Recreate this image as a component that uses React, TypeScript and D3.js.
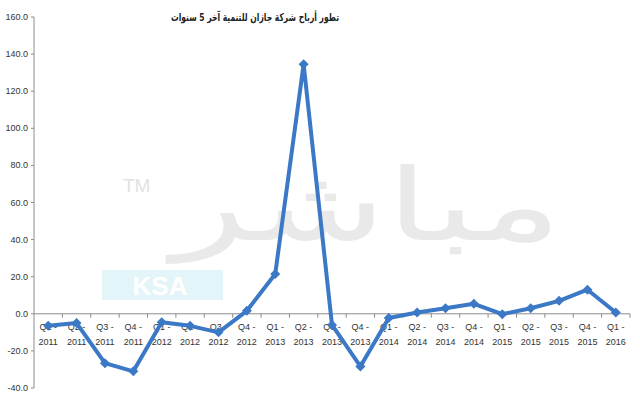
import React from "react";
import * as d3 from "d3";

const categories = [
  "Q1 - 2011", "Q2 - 2011", "Q3 - 2011", "Q4 - 2011",
  "Q1 - 2012", "Q2 - 2012", "Q3 - 2012", "Q4 - 2012",
  "Q1 - 2013", "Q2 - 2013", "Q3 - 2013", "Q4 - 2013",
  "Q1 - 2014", "Q2 - 2014", "Q3 - 2014", "Q4 - 2014",
  "Q1 - 2015", "Q2 - 2015", "Q3 - 2015", "Q4 - 2015",
  "Q1 - 2016",
];
const profits = [
  -6.5, -5.0, -26.6, -31.0,
  -4.5, -6.5, -10.0, 1.6,
  21.5, 134.5, -6.0, -28.4,
  -2.3, 0.7, 3.0, 5.4,
  -0.2, 3.0, 7.0, 13.0,
  0.7,
];
const yTicks = [-40, -20, 0, 20, 40, 60, 80, 100, 120, 140, 160];
const title = "تطور أرباح شركة جازان للتنمية آخر 5 سنوات";

export default function App() {
  const W = 640, H = 400;
  const left = 34, right = 630, top = 17, bottom = 388;
  const x = d3.scaleBand<string>().domain(categories).range([left, right]);
  const y = d3.scaleLinear().domain([-40, 160]).range([bottom, top]);
  const cx = (c: string) => (x(c) as number) + x.bandwidth() / 2;
  const line = d3.line<number>().x((_, i) => cx(categories[i])).y((d) => y(d));
  const boundaries = categories.map((c) => (x(c) as number) + x.bandwidth());
  const y0 = y(0);
  const font = "'Liberation Sans', Arial, sans-serif";

  return (
    <svg width={W} height={H} style={{ position: "absolute", left: 0, top: 0, background: "#fff" }}>
      {/* watermark */}
      <g>
        <text x={123} y={192} fontFamily={font} fontSize={19} fill="#e2e2e2">TM</text>
        <text x={562} y={240} textAnchor="end" fontFamily="'DejaVu Sans', sans-serif"
          fontSize={100} fill="#e9e9e9" textLength={390} lengthAdjust="spacingAndGlyphs">مباشر</text>
        <rect x={102} y={270} width={121} height={30} fill="#e4f5f9" />
        <text x={160} y={295} textAnchor="middle" fontFamily={font} fontWeight="bold" fontSize={26}
          fill="#ffffff">KSA</text>
      </g>

      {/* title */}
      <text x={255} y={21} textAnchor="middle" fontFamily="'DejaVu Sans', sans-serif" fontWeight="bold"
        fontSize={11} fill="#222" direction="rtl" textLength={168} lengthAdjust="spacingAndGlyphs">{title}</text>

      {/* y axis */}
      <line x1={left} x2={left} y1={top} y2={bottom} stroke="#8c8c8c" strokeWidth={1} />
      {yTicks.map((t) => (
        <g key={t}>
          <line x1={left - 3} x2={left} y1={y(t)} y2={y(t)} stroke="#8c8c8c" />
          <text x={left - 6} y={y(t) + 3} textAnchor="end" fontFamily={font} fontSize={9} fill="#333">
            {t.toFixed(1)}
          </text>
        </g>
      ))}

      {/* x axis */}
      <line x1={left} x2={right} y1={y0} y2={y0} stroke="#8c8c8c" strokeWidth={1} />
      {boundaries.map((b, i) => (
        <line key={i} x1={b} x2={b} y1={y0} y2={y0 + 4} stroke="#8c8c8c" />
      ))}
      {categories.map((c) => {
        const [q, yr] = c.split(" - ");
        return (
          <text key={c} x={cx(c)} fontFamily={font} fontSize={9} fill="#333" textAnchor="middle">
            <tspan x={cx(c)} y={330}>{q + " -"}</tspan>
            <tspan x={cx(c)} y={345}>{yr}</tspan>
          </text>
        );
      })}

      {/* series */}
      <path d={line(profits) || ""} fill="none" stroke="#3b78c6" strokeWidth={4} strokeLinejoin="round" />
      {profits.map((v, i) => {
        const px = cx(categories[i]), py = y(v);
        return (
          <path key={i} d={`M${px},${py - 5}L${px + 5},${py}L${px},${py + 5}L${px - 5},${py}Z`} fill="#3b78c6" />
        );
      })}
    </svg>
  );
}
